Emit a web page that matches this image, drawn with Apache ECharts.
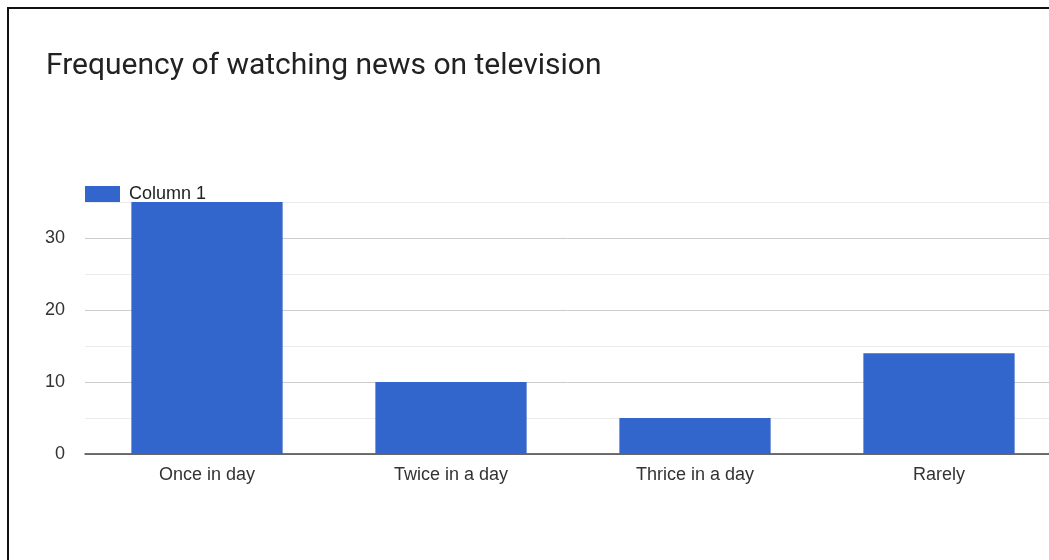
<!DOCTYPE html>
<html>
<head>
<meta charset="utf-8">
<script src="https://cdn.jsdelivr.net/npm/echarts@6/dist/echarts.min.js"></script>
<style>
  html, body { margin: 0; padding: 0; background: #fff; }
  #chart { width: 1049px; height: 560px; }
</style>
</head>
<body>
<div id="chart"></div>
<script>
// Survey responses: how often people watch the news on TV
const titleText = 'Frequency of watching news on television';
const seriesName = 'Column 1';
const categories = ['Once in day', 'Twice in a day', 'Thrice in a day', 'Rarely'];
const counts = [35, 10, 5, 14];
const yTickStep = 5;   // gridline spacing; labels shown every 10
const yMax = 35;

const chart = echarts.init(document.getElementById('chart'), null, { renderer: 'canvas' });

chart.setOption({
  animation: false,
  backgroundColor: '#fff',
  title: {
    text: titleText,
    left: 41,
    top: 46,
    textStyle: {
      fontFamily: 'Roboto',
      fontSize: 30,
      fontWeight: 'normal',
      color: '#222'
    }
  },
  legend: {
    left: 80,
    top: 180,
    itemWidth: 35,
    itemHeight: 16,
    icon: 'rect',
    textStyle: {
      fontFamily: 'Liberation Sans, Arial',
      fontSize: 18,
      color: '#222',
      padding: [0, 0, 0, 4]
    },
    data: [seriesName]
  },
  // plot area runs a little past the right edge of the page
  grid: {
    left: 85,
    width: 976,
    top: 202,
    bottom: 106,
    containLabel: false,
    outerBoundsMode: 'none'
  },
  xAxis: {
    type: 'category',
    data: categories,
    axisTick: { show: false },
    axisLine: { show: true, lineStyle: { color: '#444', width: 1.5 } },
    axisLabel: {
      margin: 12,
      fontFamily: 'Liberation Sans, Arial',
      fontSize: 18,
      color: '#333'
    },
    splitLine: { show: false }
  },
  yAxis: {
    type: 'value',
    min: 0,
    max: yMax,
    interval: yTickStep,
    axisLine: { show: false },
    axisTick: { show: false },
    axisLabel: {
      margin: 20,
      fontFamily: 'Liberation Sans, Arial',
      fontSize: 18,
      color: '#333',
      formatter: v => (v % 10 === 0 ? String(v) : '')
    },
    splitLine: {
      show: true,
      lineStyle: { color: ['#cccccc', '#ebebeb'], width: 1 }
    }
  },
  series: [{
    name: seriesName,
    type: 'bar',
    data: counts,
    barWidth: '62%',
    itemStyle: { color: '#3366cc' }
  }],
  graphic: [{
    type: 'polyline',
    shape: { points: [[8, 560], [8, 8], [1049, 8]] },
    style: { stroke: '#111', lineWidth: 2, fill: null },
    z: 100
  }]
});
</script>
</body>
</html>
